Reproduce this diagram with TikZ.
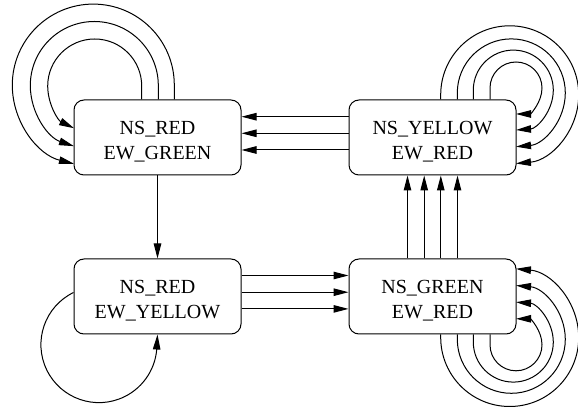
\documentclass[tikz,border=0pt]{standalone}
\usepackage{fontspec}
\setmainfont{Liberation Serif}
\usetikzlibrary{arrows.meta}
\tikzset{
  state/.style={draw, line width=1pt, rounded corners=10pt,
    minimum width=167pt, minimum height=75pt, inner sep=0pt,
    align=center, font=\fontsize{20pt}{25pt}\selectfont,
    text height=45pt, text depth=0pt},
  edge/.style={line width=1pt, -{Triangle[length=15pt,width=7.5pt]}},
}
\begin{document}
\begin{tikzpicture}[x=1pt,y=1pt]
\useasboundingbox (0,0) rectangle (578,412);

% the four traffic-light states
\node[state] (n1) at (157.5,274.5) {NS\_RED\\EW\_GREEN};
\node[state] (n2) at (432.5,274.5) {NS\_YELLOW\\EW\_RED};
\node[state] (n3) at (157.5,115.5) {NS\_RED\\EW\_YELLOW};
\node[state] (n4) at (432.5,115.5) {NS\_GREEN\\EW\_RED};

% NS_YELLOW -> NS_RED/EW_GREEN
\foreach \dy in {20.8,4.2,-12.5}
  \draw[edge] ([yshift=\dy]n2.west) -- ([yshift=\dy]n1.east);

% NS_RED/EW_GREEN -> NS_RED/EW_YELLOW
\draw[edge] (n1.south) -- (n3.north);

% NS_RED/EW_YELLOW -> NS_GREEN
\foreach \dy in {21,4.3,-12.4}
  \draw[edge] ([yshift=\dy]n3.east) -- ([yshift=\dy]n4.west);

% NS_GREEN -> NS_YELLOW
\foreach \dx in {-25,-8.3,8.3,25}
  \draw[edge] ([xshift=\dx]n4.north) -- ([xshift=\dx]n2.south);

% self loops on NS_RED/EW_GREEN
\draw[edge] ([xshift=-15.8]n1.north) -- ++(0,13.5) arc[start angle=0, end angle=243.9, radius=47];
\draw[edge] ([xshift=0.8]n1.north) -- ++(0,14) arc[start angle=0, end angle=251.5, radius=64];
\draw[edge] ([xshift=16.8]n1.north) -- ++(0,14.4) arc[start angle=0, end angle=256.2, radius=81];

% self loops on NS_YELLOW
\draw[edge] ([xshift=57.5]n2.north) -- ++(0,11.5) arc[start angle=180, end angle=-90, radius=26];
\draw[edge] ([xshift=40.8]n2.north) -- ++(0,9.4) arc[start angle=180, end angle=-86.1, radius=40];
\draw[edge] ([xshift=24.8]n2.north) -- ++(0,6.6) arc[start angle=180, end angle=-85, radius=54];
\draw[edge] ([xshift=8.2]n2.north) -- ++(0,4.7) arc[start angle=180, end angle=-84.8, radius=69];

% self loops on NS_GREEN
\draw[edge] ([xshift=57.5]n4.south) -- ++(0,-10.3) arc[start angle=-180, end angle=90, radius=26];
\draw[edge] ([xshift=40.8]n4.south) -- ++(0,-7.6) arc[start angle=-180, end angle=86.1, radius=40];
\draw[edge] ([xshift=24.8]n4.south) -- ++(0,-4.8) arc[start angle=-180, end angle=85, radius=54];
\draw[edge] ([xshift=8.2]n4.south) -- ++(0,-3) arc[start angle=-180, end angle=84.8, radius=69];

% self loop on NS_RED/EW_YELLOW
\draw[edge] ([yshift=4]n3.west) arc[start angle=116, end angle=360, radius=58] -- (n3.south);
\end{tikzpicture}
\end{document}
